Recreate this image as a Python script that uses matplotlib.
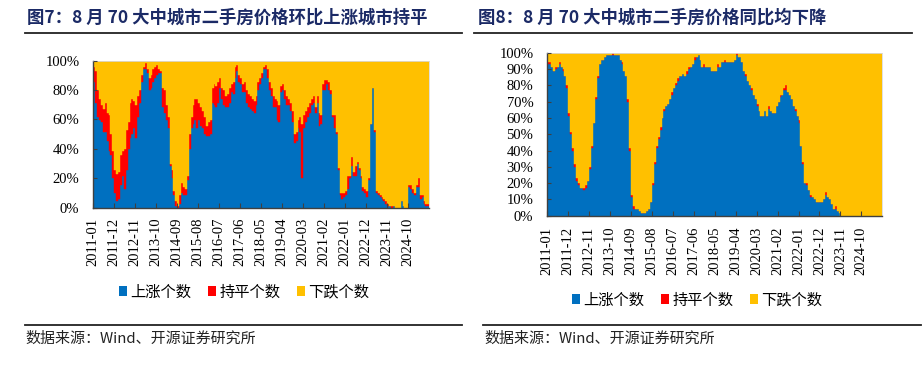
import matplotlib
matplotlib.use('Agg')
import matplotlib.pyplot as plt
from matplotlib.lines import Line2D
from matplotlib.patches import Patch
import pandas as pd

# ---------------- data (number of cities out of 70) ----------------
months = pd.period_range('2011-01', '2025-08', freq='M').strftime('%Y-%m').tolist()

# Fig 7: month-on-month
mom_up = [60,50,43,42,41,36,36,32,27,25,
          14,7,3,4,11,15,9,18,28,33,
          35,38,33,43,50,60,66,66,64,56,
          57,60,62,63,64,64,48,45,42,38,
          20,14,6,1,0,2,7,6,6,13,
          28,38,40,42,38,42,39,38,35,34,
          34,35,50,49,48,50,57,52,49,48,
          48,50,55,54,62,65,60,59,55,55,
          50,48,47,46,45,49,56,59,62,66,
          66,62,56,53,48,48,42,41,55,56,
          52,49,49,46,41,31,32,38,36,14,
          38,41,43,45,49,50,45,50,39,40,
          56,56,59,56,54,43,38,35,18,6,
          4,5,6,9,14,20,15,15,21,18,
          14,8,7,5,13,40,57,36,7,6,
          5,4,3,2,1,1,0,1,0,0,
          0,3,1,0,0,10,9,7,6,10,
          10,4,5,2,1,1]
mom_flat = [7,15,13,10,8,11,14,13,17,10,
            13,11,13,13,14,12,19,19,13,17,
            17,13,16,10,6,3,1,3,2,6,
            6,6,5,5,2,1,9,11,7,5,
            1,4,2,2,1,4,5,4,3,2,
            7,5,9,10,14,8,9,8,8,5,
            7,7,7,10,10,10,5,5,7,5,
            6,7,4,6,5,3,3,3,4,5,
            6,6,6,6,6,4,4,3,2,1,
            2,4,4,4,5,4,9,8,3,3,
            4,4,3,4,5,4,4,4,7,26,
            6,5,5,5,3,3,3,3,6,4,
            3,5,2,4,2,1,6,1,1,1,
            3,2,2,6,1,4,2,5,1,1,
            1,2,2,3,1,0,0,1,1,1,
            1,1,1,1,1,0,1,0,0,0,
            0,0,0,0,0,1,2,2,1,1,
            4,2,1,1,1,1]
mom_down = [3,5,14,18,21,23,20,25,26,35,
            43,52,54,53,45,43,42,33,29,20,
            18,19,21,17,14,7,3,1,4,8,
            7,4,3,2,4,5,13,14,21,27,
            49,52,62,67,69,64,58,60,61,55,
            35,27,21,18,18,20,22,24,27,31,
            29,28,13,11,12,10,8,13,14,17,
            16,13,11,10,3,2,7,8,11,10,
            14,16,17,18,19,17,10,8,6,3,
            2,4,10,13,17,18,19,21,12,11,
            14,17,18,20,24,35,34,28,27,30,
            26,24,22,20,18,17,22,17,25,26,
            11,9,9,10,14,26,26,34,51,63,
            63,63,62,55,55,46,53,50,48,51,
            55,60,61,62,56,30,13,33,62,63,
            64,65,66,67,68,69,69,69,70,70,
            70,67,69,70,70,59,59,61,63,59,
            56,64,64,67,68,68]

# Fig 8: year-on-year
yoy_up = [65,65,64,62,63,64,65,64,62,60,
          55,43,35,28,21,15,13,12,12,11,
          12,15,20,29,40,50,59,65,67,67,
          68,69,69,69,69,69,69,69,67,65,
          62,60,49,28,8,3,3,3,2,1,
          1,1,2,3,6,13,22,29,33,37,
          42,45,47,48,50,52,55,56,58,60,
          60,61,60,61,63,64,65,67,68,69,
          67,64,64,64,64,64,62,62,62,64,
          64,66,66,66,66,66,66,66,67,69,
          68,68,66,62,60,58,56,54,52,50,
          47,45,43,43,45,43,46,45,44,44,
          47,49,51,52,54,54,53,52,50,47,
          45,43,40,30,22,14,13,11,8,8,
          7,6,6,6,6,7,9,8,7,5,
          3,3,2,1,0,0,0,0,0,0,
          0,0,0,0,0,0,0,0,0,0,
          0,0,0,0,0,0]
yoy_flat = [1,1,0,0,1,0,1,0,1,0,
            1,1,1,1,1,1,1,0,0,1,
            1,0,1,1,0,1,1,0,0,0,
            0,0,0,0,1,0,0,0,0,1,
            0,0,1,1,1,1,0,0,0,0,
            0,0,0,0,0,1,1,1,1,1,
            0,1,0,0,0,1,0,1,1,0,
            0,0,0,1,1,0,0,1,0,0,
            0,0,1,0,0,0,0,0,0,1,
            0,0,0,1,0,0,0,0,0,1,
            0,0,0,0,1,0,0,1,0,0,
            1,0,0,0,0,0,1,0,0,0,
            0,0,1,0,1,2,0,0,0,0,
            1,0,1,0,1,0,1,0,1,0,
            0,0,0,0,0,0,1,0,0,0,
            0,1,0,0,0,0,0,0,0,0,
            0,0,0,0,0,0,0,0,0,0,
            0,0,0,0,0,0]
yoy_down = [4,4,6,8,6,6,4,6,7,10,
            14,26,34,41,48,54,56,58,58,58,
            57,55,49,40,30,19,10,5,3,3,
            2,1,1,1,0,1,1,1,3,4,
            8,10,20,41,61,66,67,67,68,69,
            69,69,68,67,64,56,47,40,36,32,
            28,24,23,22,20,17,15,13,11,10,
            10,9,10,8,6,6,5,2,2,1,
            3,6,5,6,6,6,8,8,8,5,
            6,4,4,3,4,4,4,4,3,0,
            2,2,4,8,9,12,14,15,18,20,
            22,25,27,27,25,27,23,25,26,26,
            23,21,18,18,15,14,17,18,20,23,
            24,27,29,40,47,56,56,59,61,62,
            63,64,64,64,64,63,60,62,63,65,
            67,66,68,69,70,70,70,70,70,70,
            70,70,70,70,70,70,70,70,70,70,
            70,70,70,70,70,70]

series_names = ['上涨个数', '持平个数', '下跌个数']
colors = ['#0070C0', '#FF0000', '#FFC000']
titles = ['图7：8 月 70 大中城市二手房价格环比上涨城市持平',
          '图8：8 月 70 大中城市二手房价格同比均下降']
source = '数据来源：Wind、开源证券研究所'

# ---------------- figure ----------------
W, H = 924, 378
fig = plt.figure(figsize=(W / 100, H / 100), dpi=100)
CJK = ['Noto Sans CJK SC', 'DejaVu Sans']
SERIF = ['Liberation Serif', 'DejaVu Serif']
NAVY = '#1B2A66'


def px(x0, y0, x1, y1):
    return [x0 / W, 1 - y1 / H, (x1 - x0) / W, (y1 - y0) / H]


def draw(ax, up, flat, down, yticks, ylabel_pad, xlabel_pad):
    n = len(months)
    total = [u + f + d for u, f, d in zip(up, flat, down)]
    pu = [u / t * 100 for u, t in zip(up, total)]
    pf = [f / t * 100 for f, t in zip(flat, total)]
    pd_ = [d / t * 100 for d, t in zip(down, total)]
    x = list(range(n))
    base2 = [a + b for a, b in zip(pu, pf)]
    kw = dict(width=1.0, linewidth=0.3)
    ax.bar(x, pu, color=colors[0], edgecolor=colors[0], **kw)
    ax.bar(x, pf, bottom=pu, color=colors[1], edgecolor=colors[1], **kw)
    ax.bar(x, pd_, bottom=base2, color=colors[2], edgecolor=colors[2], **kw)
    ax.set_xlim(-0.5, n - 0.5)
    ax.set_ylim(0, 100)
    ax.set_yticks(yticks)
    ax.set_yticklabels([f'{v}%' for v in yticks], family=SERIF, fontsize=10.5)
    tpos = list(range(0, n, 11))
    ax.set_xticks([t - 0.5 for t in tpos])
    ax.set_xticklabels([months[t] for t in tpos], rotation=90, family=SERIF,
                       fontsize=10.5)
    ax.tick_params(axis='y', direction='in', length=3, pad=ylabel_pad,
                   color='#404040', width=0.8)
    ax.tick_params(axis='x', direction='in', length=3.5, pad=xlabel_pad,
                   color='#404040', width=0.8)
    for s in ['left', 'bottom']:
        ax.spines[s].set_color('#404040')
        ax.spines[s].set_linewidth(1.0)
    for s in ['top', 'right']:
        ax.spines[s].set_color('#D9D9D9')
        ax.spines[s].set_linewidth(0.6)
    ax.set_axisbelow(False)


ax1 = fig.add_axes(px(93.3, 60.7, 429.3, 207.7))
draw(ax1, mom_up, mom_flat, mom_down, list(range(0, 101, 20)), 10, 7)
ax2 = fig.add_axes(px(547.3, 52.7, 882.3, 215.7))
draw(ax2, yoy_up, yoy_flat, yoy_down, list(range(0, 101, 10)), 10, 8)

# titles and rules
fig.text(27 / W, 1 - 18 / H, titles[0], family=CJK, fontsize=12.5,
         fontweight='bold', color=NAVY, va='center', ha='left')
fig.text(478 / W, 1 - 18 / H, titles[1], family=CJK, fontsize=12.5,
         fontweight='bold', color=NAVY, va='center', ha='left')
for (a, b) in [(25, 462), (474, 912)]:
    fig.add_artist(Line2D([a / W, b / W], [1 - 33 / H] * 2, color='#222222', lw=1.3))
for (a, b) in [(25, 462), (483, 921)]:
    fig.add_artist(Line2D([a / W, b / W], [1 - 325 / H] * 2, color='#222222', lw=1.3))
fig.text(25 / W, 1 - 339 / H, source, family=CJK, fontsize=10.8,
         color='#222222', va='center', ha='left')
fig.text(484 / W, 1 - 339 / H, source, family=CJK, fontsize=10.8,
         color='#222222', va='center', ha='left')

# legends
handles = [Patch(facecolor=c, edgecolor='none') for c in colors]
for cx, cy in [(244, 292), (697, 300)]:
    fig.legend(handles, series_names, loc='center', bbox_to_anchor=(cx / W, 1 - cy / H),
               ncol=3, frameon=False, prop={'family': CJK, 'size': 11},
               handlelength=0.55, handleheight=0.55, handletextpad=0.2,
               columnspacing=1.1, borderpad=0, borderaxespad=0)

fig.savefig('out.png', dpi=100)
